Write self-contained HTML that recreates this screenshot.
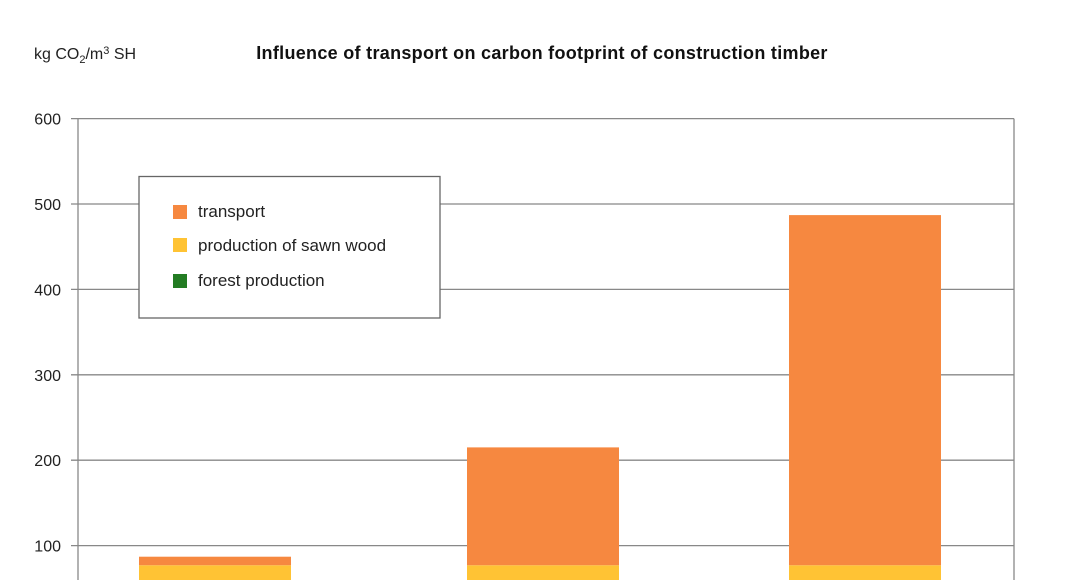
<!DOCTYPE html>
<html><head><meta charset="utf-8"><style>
html,body{margin:0;background:#fff;width:1068px;height:580px;overflow:hidden;}
svg{display:block;font-family:"Liberation Sans",sans-serif;}
</style></head><body>
<svg id="c" width="1068" height="580" viewBox="0 0 1068 580">
<text x="34" y="59" font-size="16" fill="#222">kg CO<tspan font-size="11" dy="4">2</tspan><tspan dy="-4">/m</tspan><tspan font-size="11" dy="-5">3</tspan><tspan dy="5"> SH</tspan></text>
<text x="542" y="59" font-size="18" font-weight="bold" letter-spacing="0.3" text-anchor="middle" fill="#111">Influence of transport on carbon footprint of construction timber</text>
<g id="grid"></g><g id="bars"></g>
<g>
<rect x="139" y="176.5" width="301" height="141.5" fill="#fff" stroke="#666" stroke-width="1.3"/>
<rect x="173" y="205" width="14" height="14" fill="#f68840"/><text x="198" y="217" font-size="17" fill="#222">transport</text>
<rect x="173" y="238" width="14" height="14" fill="#ffc334"/><text x="198" y="251" font-size="17" fill="#222">production of sawn wood</text>
<rect x="173" y="274" width="14" height="14" fill="#237c23"/><text x="198" y="286" font-size="17" fill="#222">forest production</text>
</g>
</svg>
<script>
const categories=["A","B","C"];
const forest=[5,5,5];
const sawn=[72,72,72];
const transport=[10,138,410];
const ticks=[100,200,300,400,500,600];
const NS="http://www.w3.org/2000/svg";
const y=v=>631-v*0.854;
const x0=78,x1=1014,bw=152,starts=[139,467,789],H=580;
const g=document.getElementById('grid'),b=document.getElementById('bars');
function mk(p,t,a){const e=document.createElementNS(NS,t);for(const k in a)e.setAttribute(k,a[k]);p.appendChild(e);return e;}
ticks.forEach(t=>{
 const l=mk(g,'line',{x1:71,x2:x1,y1:y(t),y2:y(t),stroke:'#888','stroke-width':1.3});
 
 
 const tx=mk(g,'text',{x:61,y:y(t)+6,'font-size':16,'text-anchor':'end',fill:'#222'});tx.textContent=t;
 
 
});
mk(g,'line',{x1:x0,x2:x0,y1:y(600),y2:H,stroke:'#888','stroke-width':1.3});
mk(g,'line',{x1:x1,x2:x1,y1:y(600),y2:H,stroke:'#888','stroke-width':1.3});
categories.forEach((c,i)=>{
 let base=0;
 [[forest,'#237c23','forest'],[sawn,'#ffc334','sawn'],[transport,'#f68840','transport']].forEach(([arr,col,n])=>{
  const v=arr[i];
  const top=y(base+v), bot=Math.min(y(base),H);
  if(bot>top){
   const r=mk(b,'rect',{x:starts[i],y:top,width:bw,height:bot-top,fill:col});
   
   
  }
  base+=v;
 });
});
</script>
</body></html>
